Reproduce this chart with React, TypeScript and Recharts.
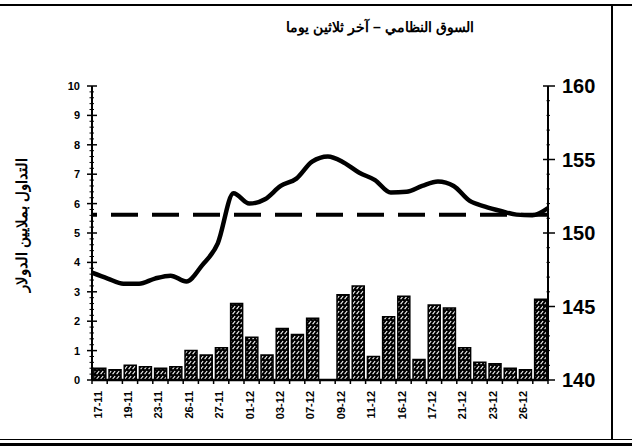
import React from 'react';
import {
  ComposedChart,
  Bar,
  Line,
  XAxis,
  YAxis,
  ReferenceLine,
} from 'recharts';

// trading days (only every second one is labelled on the axis)
const dates = [
  '17-11', '18-11', '19-11', '20-11', '23-11', '24-11', '26-11', '26-11', '27-11', '30-11',
  '01-12', '02-12', '03-12', '04-12', '07-12', '08-12', '09-12', '10-12', '11-12', '14-12',
  '16-12', '16-12', '17-12', '18-12', '21-12', '22-12', '23-12', '24-12', '26-12', '28-12',
];

// traded value, millions of dollars (left axis)
const volume = [
  0.4, 0.35, 0.5, 0.45, 0.4, 0.45, 1.0, 0.85, 1.1, 2.6,
  1.45, 0.85, 1.75, 1.55, 2.1, 0, 2.9, 3.2, 0.8, 2.15,
  2.85, 0.7, 2.55, 2.45, 1.1, 0.6, 0.55, 0.4, 0.35, 2.75,
];

// index level (right axis)
const index = [
  147.3, 146.9, 146.55, 146.55, 146.9, 147.1, 146.7, 147.8, 149.3, 152.7,
  152.0, 152.3, 153.2, 153.7, 154.85, 155.2, 154.8, 154.1, 153.6, 152.75,
  152.8, 153.2, 153.5, 153.2, 152.2, 151.8, 151.5, 151.25, 151.2, 151.7,
];

const average = 151.25;

const title = 'السوق النظامي – آخر ثلاثين يوما';
const leftTitle = 'التداول بملايين الدولار';

const data = dates.map((d, i) => ({ idx: i, date: d, volume: volume[i], index: index[i] }));

const FONT = '"Liberation Sans", Arial, sans-serif';

// tick positions incl. minor ones
const leftTicks = Array.from({ length: 51 }, (_, i) => Math.round(i * 2) / 10);
const rightTicks = Array.from({ length: 21 }, (_, i) => 140 + i);

const HALF_BAND = 456 / dates.length / 2;

const isWhole = (v: number, step: number) => Math.abs(v / step - Math.round(v / step)) < 1e-6;

const DateTick = (props: any) => {
  const { x, y, payload } = props;
  const i = payload.value;
  return (
    <g>
      <line x1={x - HALF_BAND} x2={x - HALF_BAND} y1={y} y2={y + 4} stroke="#000" strokeWidth={1.5} />
      {i === dates.length - 1 && (
        <line x1={x + HALF_BAND} x2={x + HALF_BAND} y1={y} y2={y + 4} stroke="#000" strokeWidth={1.5} />
      )}
      {i % 2 === 0 && (
        <g transform={`translate(${x},${y})`}>
          <text
            transform="rotate(-90)"
            x={-11}
            y={0}
            dy={2}
            textAnchor="end"
            fontFamily={FONT}
            fontWeight="bold"
            fontSize={11}
            fill="#000"
          >
            {dates[i]}
          </text>
        </g>
      )}
    </g>
  );
};

const LeftTick = (props: any) => {
  const { x, y, payload } = props;
  const v = payload.value;
  const major = isWhole(v, 1);
  return (
    <g>
      <line x1={x - (major ? 5 : 2.5)} x2={x + (major ? 5 : 2)} y1={y} y2={y} stroke="#000" strokeWidth={major ? 1.5 : 1} />
      {major && (
        <text x={x - 12} y={y} dy={4} textAnchor="end" fontFamily={FONT} fontWeight="bold" fontSize={11} fill="#000">
          {v}
        </text>
      )}
    </g>
  );
};

const RightTick = (props: any) => {
  const { x, y, payload } = props;
  const v = payload.value;
  const major = isWhole(v, 5);
  return (
    <g>
      <line x1={x - (major ? 5 : 1.5)} x2={x + (major ? 7 : 2)} y1={y} y2={y} stroke="#000" strokeWidth={major ? 1.5 : 1} />
      {major && (
        <text x={x + 14} y={y} dy={7} textAnchor="start" fontFamily={FONT} fontWeight="bold" fontSize={20} fill="#000">
          {v}
        </text>
      )}
    </g>
  );
};

export default function App() {
  return (
    <div style={{ position: 'absolute', left: 0, top: 0, width: 632, height: 448, background: '#fff', overflow: 'hidden' }}>
      {/* frame */}
      <div style={{ position: 'absolute', left: 0, top: 4, width: 632, height: 2, background: '#000' }} />
      <div style={{ position: 'absolute', left: 611, top: 4, width: 2, height: 436, background: '#000' }} />
      <div style={{ position: 'absolute', left: 0, top: 439, width: 632, height: 1, background: '#000' }} />
      <div style={{ position: 'absolute', left: 0, top: 443, width: 632, height: 3, background: '#000' }} />

      <div
        style={{
          position: 'absolute', left: 180, top: 19, width: 400, textAlign: 'center',
          fontFamily: FONT, fontWeight: 'bold', fontSize: 14, direction: 'rtl',
        }}
      >
        {title}
      </div>
      <div style={{ position: 'absolute', left: 22, top: 226, width: 0, height: 0 }}>
        <div
          style={{
            position: 'absolute', left: -100, top: -9, width: 200, textAlign: 'center',
            transform: 'rotate(-90deg)', fontFamily: FONT, fontWeight: 'bold', fontSize: 14.5,
            direction: 'rtl', whiteSpace: 'nowrap',
          }}
        >
          {leftTitle}
        </div>
      </div>

      <ComposedChart
        width={632}
        height={448}
        data={data}
        margin={{ top: 86, right: 34, left: 52, bottom: 18 }}
        barCategoryGap="12%"
        style={{ position: 'absolute', left: 0, top: 0 }}
      >
        <defs>
          <pattern id="hatch" width="4" height="5" patternUnits="userSpaceOnUse">
            <rect width="4" height="5" fill="#000" />
            <path d="M0.6,4.2 L3.2,1" stroke="#fff" strokeWidth="1.1" />
          </pattern>
        </defs>

        <XAxis
          xAxisId="cat"
          dataKey="idx"
          type="category"
          interval={0}
          tick={<DateTick />}
          tickLine={false}
          tickSize={0}
          tickMargin={0}
          axisLine={{ stroke: '#000', strokeWidth: 2.5 }}
          height={50}
        />
        <XAxis xAxisId="line" dataKey="idx" type="number" domain={[0, 29]} hide />

        <YAxis
          yAxisId="left"
          domain={[0, 10]}
          ticks={leftTicks}
          interval={0}
          width={40}
          tickSize={0}
          tickMargin={0}
          tickLine={false}
          axisLine={{ stroke: '#000', strokeWidth: 2 }}
          tick={<LeftTick />}
        />
        <YAxis
          yAxisId="right"
          orientation="right"
          domain={[140, 160]}
          ticks={rightTicks}
          interval={0}
          width={50}
          tickSize={0}
          tickMargin={0}
          tickLine={false}
          axisLine={{ stroke: '#000', strokeWidth: 2 }}
          tick={<RightTick />}
        />

        <Bar
          xAxisId="cat"
          yAxisId="left"
          dataKey="volume"
          fill="url(#hatch)"
          stroke="#000"
          strokeWidth={1.5}
          isAnimationActive={false}
        />
        <ReferenceLine
          xAxisId="line"
          yAxisId="right"
          y={average}
          stroke="#000"
          strokeWidth={4}
          strokeDasharray="27 14"
        />
        <Line
          xAxisId="line"
          yAxisId="right"
          dataKey="index"
          type="monotone"
          stroke="#000"
          strokeWidth={4.5}
          dot={false}
          isAnimationActive={false}
        />
      </ComposedChart>
    </div>
  );
}
